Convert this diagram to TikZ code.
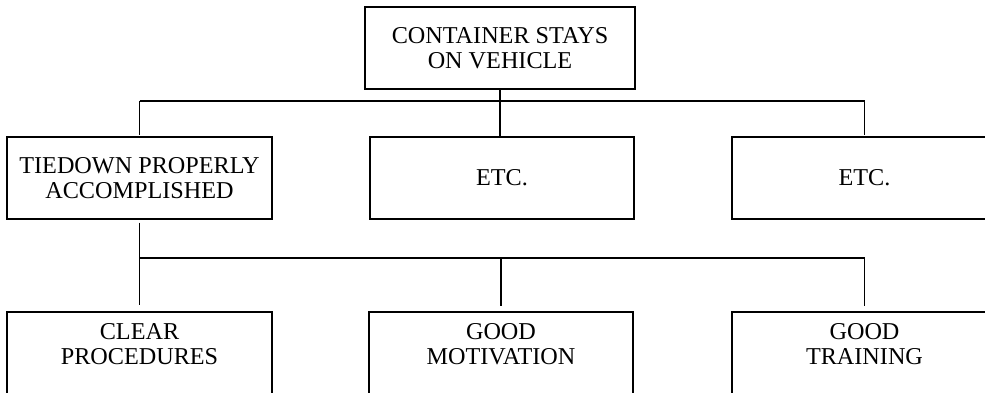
\documentclass[tikz,border=0pt]{standalone}
\usepackage{fontspec}
\setmainfont{Liberation Serif}
\begin{document}
\begin{tikzpicture}[x=1pt,y=-1pt,
  box/.style={draw, line width=1.3pt, rectangle, minimum width=265pt, minimum height=82pt,
    inner sep=0pt, align=center, font=\fontsize{24.2}{25}\selectfont},
  lbl/.style={inner sep=0pt, align=center, font=\fontsize{24.2}{25}\selectfont},
  link/.style={line width=1.1pt}]
\clip (0,0) rectangle (985,392);
\fill[white] (0,0) rectangle (985,392);

% top goal
\node[box, minimum width=270pt] (top) at (500,48) {CONTAINER STAYS\\ON VEHICLE};

% second level
\node[box] (m1) at (139.5,178) {TIEDOWN PROPERLY\\ACCOMPLISHED};
\node[box, minimum width=264pt] (m2) at (502,178) {ETC.};
\node[box] (m3) at (864.5,178) {ETC.};

% third level (boxes run past the lower edge)
\node[box] (b1) at (139.5,353) {};
\node[box, minimum width=264pt] (b2) at (501,353) {};
\node[box] (b3) at (864.5,353) {};
\node[lbl] (t1) at (139.5,344) {CLEAR\\PROCEDURES};
\node[lbl] (t2) at (501,344) {GOOD\\MOTIVATION};
\node[lbl] (t3) at (864.5,344) {GOOD\\TRAINING};

% buses
\coordinate (busA) at (0,101);
\coordinate (busB) at (0,258);

% top to second level
\draw[link] (top.south) -- (top.south |- m2.north);
\draw[link] (m1.north |- busA) -- (m3.north |- busA);
\draw[link, shorten >=1.5pt] (m1.north |- busA) -- (m1.north);
\draw[link, shorten >=1.5pt] (m3.north |- busA) -- (m3.north);

% second to third level
\draw[link, shorten <=3pt, shorten >=6pt] (m1.south) -- (b1.north);
\draw[link] (b1.north |- busB) -- (b3.north |- busB);
\draw[link, shorten >=5pt] (b2.north |- busB) -- (b2.north);
\draw[link, shorten >=5pt] (b3.north |- busB) -- (b3.north);
\end{tikzpicture}
\end{document}
